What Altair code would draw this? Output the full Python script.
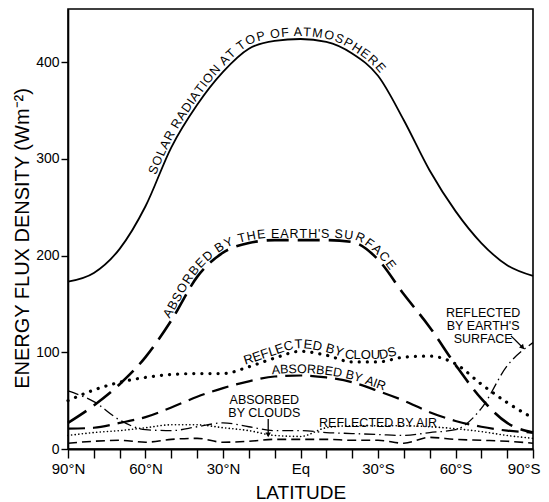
import math
import altair as alt
import pandas as pd

# ---------------- data ----------------
latitudes = [90, 80, 70, 60, 50, 40, 30, 20, 10, 0, -10, -20, -30, -40, -50, -60, -70, -80, -90]
solar_top = [173, 182, 207, 251, 312, 356, 390, 414, 422, 424, 421, 409, 386, 340, 288, 246, 213, 190, 179]
absorbed_surface = [27, 45, 67, 95, 133, 178, 203, 213, 216, 216, 216, 214, 196, 160, 126, 87, 52, 27, 17]
reflected_clouds = [50, 61, 69, 74, 77, 78, 78, 85, 94, 101, 97, 90, 90, 95, 96, 88, 67, 48, 32]
absorbed_air = [21, 22, 27, 33, 43, 54, 63, 70, 75, 76, 74, 69, 60, 50, 38, 29, 23, 19, 17]
reflected_surface = [60, 49, 30, 20, 19, 23, 27, 23, 19, 19, 17, 16, 15, 14, 17, 20, 42, 86, 110]
reflected_air = [14, 17, 19, 22, 25, 25, 22, 19, 14, 13, 22, 24, 24, 24, 23, 21, 18, 14, 11]
absorbed_clouds = [6, 8, 9, 7, 10, 11, 7, 8, 10, 10, 10, 9, 9, 6, 12, 10, 9, 8, 6]

label_solar = "SOLAR RADIATION AT TOP OF ATMOSPHERE"
label_surface = "ABSORBED BY THE EARTH'S SURFACE"
label_clouds = "REFLECTED BY CLOUDS"
label_air = "ABSORBED BY AIR"
label_refl_air = "REFLECTED BY AIR"
label_abs_clouds = ["ABSORBED", "BY CLOUDS"]
label_refl_surface = ["REFLECTED", "BY EARTH'S", "SURFACE"]
tick_values = list(range(-90, 91, 10))
y_ticks = [0, 100, 200, 300, 400]

# ---------------- geometry ----------------
W, H = 465, 440
YMAX = 455
FONT = "Liberation Sans"


def to_px(lat, v):
    return ((90 - lat) / 180 * W, H - v / YMAX * H)


def to_data(x, y):
    return (90 - x / W * 180, (H - y) / H * YMAX)


def sgn(a):
    return (a > 0) - (a < 0)


def monotone_path(lats, vals, n=30):
    pts = sorted(to_px(l, v) for l, v in zip(lats, vals))
    xs = [p[0] for p in pts]
    ys = [p[1] for p in pts]
    m = len(xs)
    t = [0.0] * m
    for i in range(1, m - 1):
        h0 = xs[i] - xs[i - 1]
        h1 = xs[i + 1] - xs[i]
        s0 = (ys[i] - ys[i - 1]) / h0
        s1 = (ys[i + 1] - ys[i]) / h1
        p = (s0 * h1 + s1 * h0) / (h0 + h1)
        t[i] = (sgn(s0) + sgn(s1)) * min(abs(s0), abs(s1), 0.5 * abs(p))
    t[0] = (3 * (ys[1] - ys[0]) / (xs[1] - xs[0]) - t[1]) / 2
    t[-1] = (3 * (ys[-1] - ys[-2]) / (xs[-1] - xs[-2]) - t[-2]) / 2
    path = []
    for i in range(m - 1):
        x0, y0, x1, y1 = xs[i], ys[i], xs[i + 1], ys[i + 1]
        dx = (x1 - x0) / 3
        c1 = (x0 + dx, y0 + dx * t[i])
        c2 = (x1 - dx, y1 - dx * t[i + 1])
        for k in range(n):
            u = k / n
            a = (1 - u) ** 3
            b = 3 * (1 - u) ** 2 * u
            c = 3 * (1 - u) * u ** 2
            d = u ** 3
            path.append((a * x0 + b * c1[0] + c * c2[0] + d * x1,
                         a * y0 + b * c1[1] + c * c2[1] + d * y1))
    path.append((xs[-1], ys[-1]))
    return path


CW = {'A': .667, 'B': .667, 'C': .722, 'D': .722, 'E': .667, 'F': .611, 'G': .778,
      'H': .722, 'I': .278, 'L': .556, 'M': .833, 'N': .722, 'O': .778, 'P': .667,
      'R': .722, 'S': .667, 'T': .611, 'U': .722, 'Y': .667, ' ': .278, "'": .191}


def curved_text(text, lats, vals, lat_start, lat_end, offset):
    path = monotone_path(lats, vals)
    s = [0.0]
    for i in range(1, len(path)):
        s.append(s[-1] + math.hypot(path[i][0] - path[i - 1][0], path[i][1] - path[i - 1][1]))
    xa = (90 - lat_start) / 180 * W
    xb = (90 - lat_end) / 180 * W
    ia = next(i for i, p in enumerate(path) if p[0] >= xa)
    ib = next(i for i, p in enumerate(path) if p[0] >= xb)
    sa, sb = s[ia], s[ib]
    widths = [CW.get(c, .667) for c in text]
    k = (sb - sa) / sum(widths)
    rows = []
    cum = 0.0
    for c, w in zip(text, widths):
        target = sa + (cum + w / 2) * k
        cum += w
        if c == ' ':
            continue
        j = next(i for i in range(len(s)) if s[i] >= target)
        j = max(1, min(j, len(path) - 1))
        tx = path[j][0] - path[j - 1][0]
        ty = path[j][1] - path[j - 1][1]
        ln = math.hypot(tx, ty)
        tx, ty = tx / ln, ty / ln
        frac = (target - s[j - 1]) / max(s[j] - s[j - 1], 1e-9)
        x = path[j - 1][0] + frac * (path[j][0] - path[j - 1][0])
        y = path[j - 1][1] + frac * (path[j][1] - path[j - 1][1])
        X = x + ty * offset
        Y = y - tx * offset
        lat, v = to_data(X, Y)
        rows.append({'lat': lat, 'v': v, 'ch': c,
                     'angle': math.degrees(math.atan2(ty, tx)) % 360})
    return pd.DataFrame(rows)


# ---------------- encodings ----------------
x_axis = alt.Axis(values=tick_values,
                  labelExpr="datum.value % 30 != 0 ? '' : (datum.value == 0 ? 'Eq' : abs(datum.value) + '°' + (datum.value > 0 ? 'N' : 'S'))",
                  labelAlign={"condition": {"test": "datum.value == -90", "value": "right"}, "value": "center"},
                  labelOffset={"condition": {"test": "datum.value == -90", "value": 7}, "value": 0},
                  tickSize=9, tickWidth=1.4, labelFontSize=15, labelPadding=3,
                  labelFlush=False, labelOverlap=False, grid=False,
                  title='LATITUDE', titleFontSize=19, titleFontWeight='normal',
                  titleY=49, titleBaseline='alphabetic', domainWidth=1.8)
y_axis = alt.Axis(values=y_ticks, tickSize=7, tickWidth=1.4, labelFontSize=14,
                  labelPadding=2, grid=False,
                  title='ENERGY FLUX DENSITY (Wm⁻²)', titleFontSize=20,
                  titleFontWeight='normal', titleX=-40, titleY=229, titleAngle=270,
                  titleAlign='center', titleBaseline='alphabetic', domainWidth=1.6)
xs = alt.Scale(domain=[-90, 90], reverse=True, nice=False, zero=False)
ys = alt.Scale(domain=[0, YMAX], nice=False)


def X(f='lat'):
    return alt.X(f + ':Q', scale=xs, axis=x_axis)


def Y(f='v'):
    return alt.Y(f + ':Q', scale=ys, axis=y_axis)


def series_df(vals):
    return pd.DataFrame({'lat': latitudes, 'v': vals})


line_styles = [
    (solar_top, None, 1.8, 'butt'),
    (absorbed_surface, [22, 9], 2.6, 'butt'),
    (reflected_clouds, [0.1, 8], 3.2, 'round'),
    (absorbed_air, [17, 8], 2.2, 'butt'),
    (reflected_surface, [11, 4, 1.5, 4], 1.3, 'butt'),
    (reflected_air, [0.1, 3.5], 1.6, 'round'),
    (absorbed_clouds, [9, 5], 1.6, 'butt'),
]

layers = []
for vals, dash, sw, cap in line_styles:
    kw = dict(color='black', strokeWidth=sw, strokeCap=cap, interpolate='monotone')
    if dash:
        kw['strokeDash'] = dash
    layers.append(alt.Chart(series_df(vals)).mark_line(**kw).encode(x=X(), y=Y()))


def text_layer(df, size):
    return alt.Chart(df).mark_text(font=FONT, fontSize=size, baseline='alphabetic',
                                   align='center', color='black').encode(
        x=X(), y=Y(), text='ch:N', angle=alt.Angle('angle:Q', scale=None))


layers.append(text_layer(curved_text(label_solar, latitudes, solar_top, 55, -30, 3), 12.5))
layers.append(text_layer(curved_text(label_surface, latitudes, absorbed_surface, 50, -34, 2.5), 12.5))
layers.append(text_layer(curved_text(label_clouds, latitudes, reflected_clouds, 21, -37.5, 3), 13))
layers.append(text_layer(curved_text(label_air, latitudes, absorbed_air, 11, -32, 2.5), 12.5))

plain = pd.DataFrame({
    'ch': [label_refl_air] + label_abs_clouds + label_refl_surface,
    'lat': [-30, 14.0, 14.0, -70.7, -70.7, -70.7],
    'v': [23, 47, 33.4, 136.4, 123, 109.6],
    'size': [12.5, 12.5, 12.5, 12.5, 12.5, 12.5],
})
layers.append(alt.Chart(plain).mark_text(font=FONT, baseline='alphabetic', align='center',
                                         color='black').encode(
    x=X(), y=Y(), text='ch:N', size=alt.Size('size:Q', scale=None, legend=None)))

arrows = pd.DataFrame({'lat': [12.5, -81.5], 'v': [31.0, 117.0],
                       'lat2': [12.5, -86.0], 'v2': [14.0, 105.0]})
layers.append(alt.Chart(arrows).mark_rule(color='black', strokeWidth=1.3).encode(
    x=X(), y=Y(), x2='lat2:Q', y2='v2:Q'))
heads = pd.DataFrame({'lat': [12.5, -86.0], 'v': [14.5, 105.0], 'angle': [0, 317]})
layers.append(alt.Chart(heads).mark_point(shape='triangle-down', filled=True, size=30,
                                          color='black', opacity=1).encode(
    x=X(), y=Y(), angle=alt.Angle('angle:Q', scale=None)))

chart = alt.layer(*layers).properties(
    width=W, height=H,
    padding={'left': 60, 'top': 1, 'right': 8, 'bottom': 53},
    autosize=alt.AutoSizeParams(type='none'),
    background='white',
).configure_view(stroke='black', strokeWidth=1.6).configure_axis(
    domainColor='black', tickColor='black', labelColor='black', titleColor='black',
    labelFont=FONT, titleFont=FONT)

chart.save("out.html", embed_options={"renderer": "svg", "actions": False})
